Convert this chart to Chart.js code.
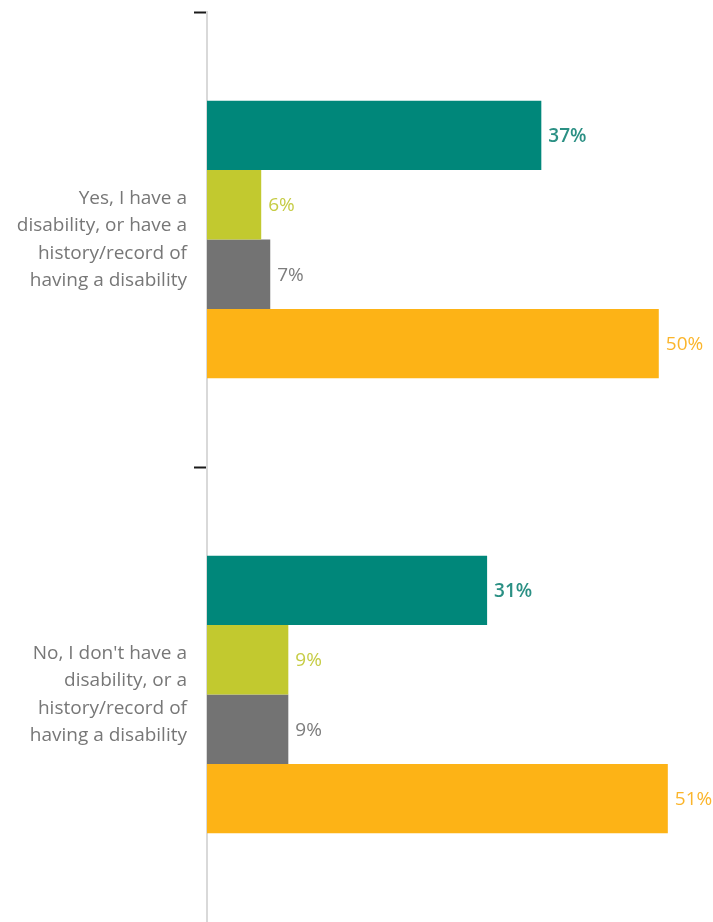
<!DOCTYPE html>
<html>
<head>
<meta charset="utf-8">
<script src="https://cdn.jsdelivr.net/npm/chart.js@4"></script>
<style>
html,body{margin:0;padding:0;background:#fff;}
#wrap{width:713px;height:922px;position:relative;}
</style>
</head>
<body>
<div id="wrap"><canvas id="c"></canvas></div>
<script>
const categories = [
  ["Yes, I have a", "disability, or have a", "history/record of", "having a disability"],
  ["No, I don't have a", "disability, or a", "history/record of", "having a disability"]
];
const seriesA = [37, 31];
const seriesB = [6, 9];
const seriesC = [7, 9];
const seriesD = [50, 51];
const barColors = ["#00877a", "#c2c92f", "#737373", "#fdb316"];
const labelColors = ["#2b9084", "#c6cc45", "#7d7d7d", "#fbb52b"];

const valueLabels = {
  id: 'valueLabels',
  afterDatasetsDraw(chart) {
    const ctx = chart.ctx;
    ctx.save();
    ctx.textBaseline = 'middle';
    ctx.textAlign = 'left';
    chart.data.datasets.forEach((ds, i) => {
      const meta = chart.getDatasetMeta(i);
      ctx.fillStyle = labelColors[i];
      ctx.font = (i === 0 ? '600 ' : '400 ') + '19px "Open Sans", sans-serif';
      meta.data.forEach((bar, j) => {
        ctx.fillText(ds.data[j] + '%', bar.x + 7, bar.y + 1);
      });
    });
    ctx.restore();
  }
};

new Chart(document.getElementById('c'), {
  type: 'bar',
  data: {
    labels: categories,
    datasets: [
      {data: seriesA, backgroundColor: barColors[0]},
      {data: seriesB, backgroundColor: barColors[1]},
      {data: seriesC, backgroundColor: barColors[2]},
      {data: seriesD, backgroundColor: barColors[3]}
    ]
  },
  options: {
    indexAxis: 'y',
    responsive: true,
    maintainAspectRatio: false,
    animation: false,
    layout: {padding: {top: 12, right: 0, bottom: 0, left: 0}},
    datasets: {bar: {categoryPercentage: 0.61, barPercentage: 1.0, borderWidth: 0}},
    plugins: {legend: {display: false}, tooltip: {enabled: false}},
    scales: {
      x: {
        display: false,
        min: 0,
        max: 56
      },
      y: {
        afterFit(scale) { scale.width = 207; scale.paddingTop = 0; scale.paddingBottom = 0; },
        border: {display: true, color: '#d9d9d9', width: 2},
        grid: {
          offset: true,
          drawOnChartArea: false,
          drawTicks: true,
          tickLength: 13,
          tickColor: (c) => (c.type === 'tick' ? '#1a1a1a' : 'rgba(0,0,0,0)'),
          tickWidth: 2
        },
        ticks: {
          color: '#777777',
          padding: 7,
          font: {family: '"Open Sans", sans-serif', size: 19, lineHeight: 1.45}
        }
      }
    }
  },
  plugins: [valueLabels]
});
</script>
</body>
</html>
